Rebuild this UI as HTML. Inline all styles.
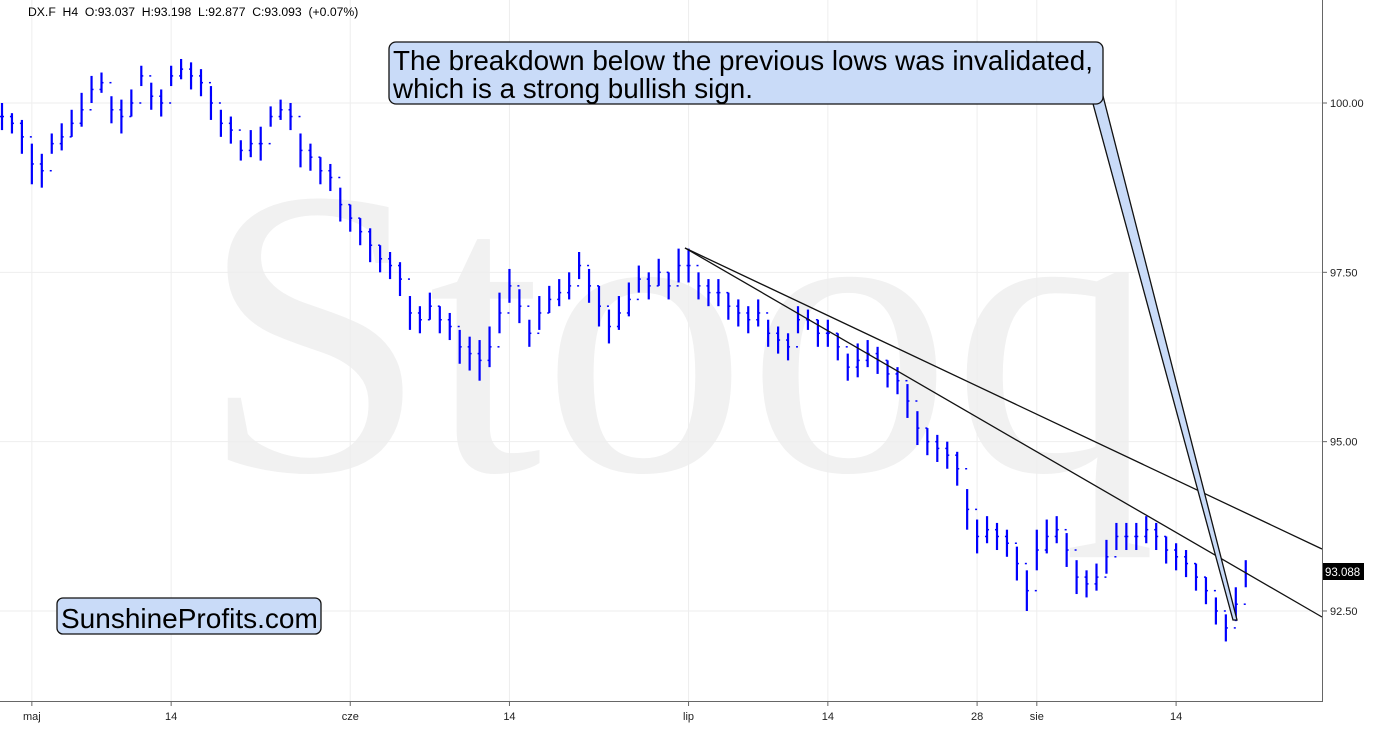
<!DOCTYPE html>
<html><head><meta charset="utf-8"><style>
html,body{margin:0;padding:0;background:#fff;}
svg{display:block;font-family:"Liberation Sans",Arial,sans-serif;}
</style></head><body>
<svg id="chart" width="1383" height="732" viewBox="0 0 1383 732">
<text x="200" y="470" font-family="Liberation Serif" font-size="410" fill="#f1f1f1">Stooq</text>
<g id="grid"></g>
<g id="bars"></g>
<line x1="685" y1="248" x2="1322" y2="549" stroke="#111" stroke-width="1.3"/>
<line x1="685" y1="248" x2="1322" y2="617" stroke="#111" stroke-width="1.3"/>
<polygon points="1092,100 1103,96 1237,620 1233,620" fill="#c9dbf8" stroke="#111" stroke-width="1.3"/>
<rect x="389" y="42" width="714" height="62" rx="7" fill="#c9dbf8" stroke="#111" stroke-width="1.3"/>
<text x="393" y="70" font-size="27.8" fill="#000">The breakdown below the previous lows was invalidated,</text>
<text x="393" y="98" font-size="27.8" fill="#000">which is a strong bullish sign.</text>
<rect x="57" y="598" width="264" height="36" rx="6" fill="#c9dbf8" stroke="#111" stroke-width="1.3"/>
<text x="61" y="628" font-size="28" fill="#000">SunshineProfits.com</text>
<text x="28" y="16" font-size="12.2" fill="#000" xml:space="preserve">DX.F  H4  O:93.037  H:93.198  L:92.877  C:93.093  (+0.07%)</text>
<line x1="1322.5" y1="0" x2="1322.5" y2="702" stroke="#666"/>
<line x1="0" y1="701.5" x2="1323" y2="701.5" stroke="#666"/>
<g id="axes"></g>
<rect x="1323" y="563" width="41" height="17" fill="#000"/>
<text x="1325" y="576" font-size="11.5" fill="#fff">93.088</text>
</svg>
<script>
const mids=[99.8,99.7,99.5,99.1,99.0,99.4,99.5,99.7,99.9,100.2,100.3,99.9,99.8,100.0,100.4,100.1,100.0,100.4,100.5,100.4,100.3,100.0,99.7,99.6,99.3,99.4,99.4,99.8,99.9,99.8,99.3,99.2,99.0,98.9,98.5,98.3,98.1,97.9,97.7,97.6,97.4,96.9,96.8,97.0,96.8,96.7,96.4,96.3,96.2,96.4,96.9,97.3,97.0,96.6,96.9,97.1,97.2,97.3,97.6,97.3,97.0,96.7,96.9,97.1,97.4,97.3,97.5,97.3,97.6,97.6,97.3,97.2,97.2,97.0,96.9,96.8,96.9,96.6,96.5,96.4,96.8,96.8,96.6,96.6,96.4,96.1,96.2,96.3,96.2,96.0,95.9,95.6,95.2,95.0,94.9,94.8,94.6,94.0,93.6,93.7,93.6,93.5,93.2,92.8,93.4,93.6,93.7,93.4,93.0,92.9,93.0,93.3,93.6,93.6,93.6,93.7,93.6,93.4,93.3,93.2,93.0,92.8,92.5,92.25,92.6,93.05];
const ranges=[0.4,0.3,0.5,0.6,0.5,0.3,0.4,0.4,0.5,0.4,0.3,0.4,0.5,0.4,0.3,0.4,0.4,0.3,0.3,0.4,0.4,0.5,0.4,0.4,0.3,0.4,0.5,0.3,0.3,0.4,0.5,0.4,0.4,0.4,0.5,0.4,0.4,0.5,0.4,0.4,0.5,0.5,0.4,0.4,0.4,0.4,0.5,0.5,0.6,0.6,0.6,0.5,0.5,0.4,0.5,0.4,0.4,0.4,0.4,0.5,0.6,0.5,0.5,0.5,0.4,0.4,0.4,0.4,0.5,0.5,0.4,0.4,0.4,0.4,0.4,0.4,0.4,0.4,0.4,0.4,0.4,0.3,0.4,0.4,0.4,0.4,0.5,0.4,0.4,0.4,0.4,0.5,0.5,0.4,0.4,0.4,0.5,0.6,0.5,0.4,0.4,0.4,0.5,0.6,0.6,0.5,0.4,0.5,0.5,0.4,0.4,0.5,0.4,0.4,0.4,0.4,0.4,0.4,0.4,0.4,0.4,0.4,0.4,0.4,0.5,0.4];
const yTicks=[100,97.5,95,92.5];
const yTickLabels=["100.00","97.50","95.00","92.50"];
const xTickLabels=["maj","14","cze","14","lip","14","28","sie","14"];
const xTickIndex=[3,17,35,51,69,83,98,104,118];
const NS="http://www.w3.org/2000/svg";
function y(v){return 103+(100-v)*67.73;}
function x(i){return 2+i*9.95;}
const grid=document.getElementById('grid'),bars=document.getElementById('bars'),axes=document.getElementById('axes');
function mk(tag,attrs,parent){const e=document.createElementNS(NS,tag);for(const k in attrs)e.setAttribute(k,attrs[k]);parent.appendChild(e);return e;}
yTicks.forEach((v,i)=>{
 const g=mk('line',{x1:0,x2:1322,y1:y(v),y2:y(v),stroke:'#eee'},grid);
 
 
 const t=mk('line',{x1:1322,x2:1327,y1:y(v),y2:y(v),stroke:'#666'},axes);
 
 
 const l=mk('text',{x:1330,y:y(v)+4,'font-size':11,fill:'#222'},axes);
 l.textContent=yTickLabels[i];
 
 
});
xTickIndex.forEach((idx,i)=>{
 const xx=x(idx);
 const g=mk('line',{x1:xx,x2:xx,y1:0,y2:701,stroke:'#eee'},grid);
 
 
 const t=mk('line',{x1:xx,x2:xx,y1:701,y2:706,stroke:'#666'},axes);
 
 
 const l=mk('text',{x:xx,y:720,'font-size':11,fill:'#222','text-anchor':'middle'},axes);
 l.textContent=xTickLabels[i];
 
 
});
mids.forEach((m,i)=>{
 const xx=x(i),h=m+ranges[i]/2,lo=m-ranges[i]/2;
 const b=mk('line',{x1:xx,x2:xx,y1:y(h),y2:y(lo),stroke:'#0000ff','stroke-width':2.2},bars);
 
 
 const prev=i>0?mids[i-1]:m;
 const o=mk('line',{x1:xx-2,x2:xx,y1:y(prev),y2:y(prev),stroke:'#0000ff','stroke-width':1.5},bars);
 
 
 const c=mk('line',{x1:xx,x2:xx+2,y1:y(m),y2:y(m),stroke:'#0000ff','stroke-width':1.5},bars);
 
 
});
</script>
</body></html>
